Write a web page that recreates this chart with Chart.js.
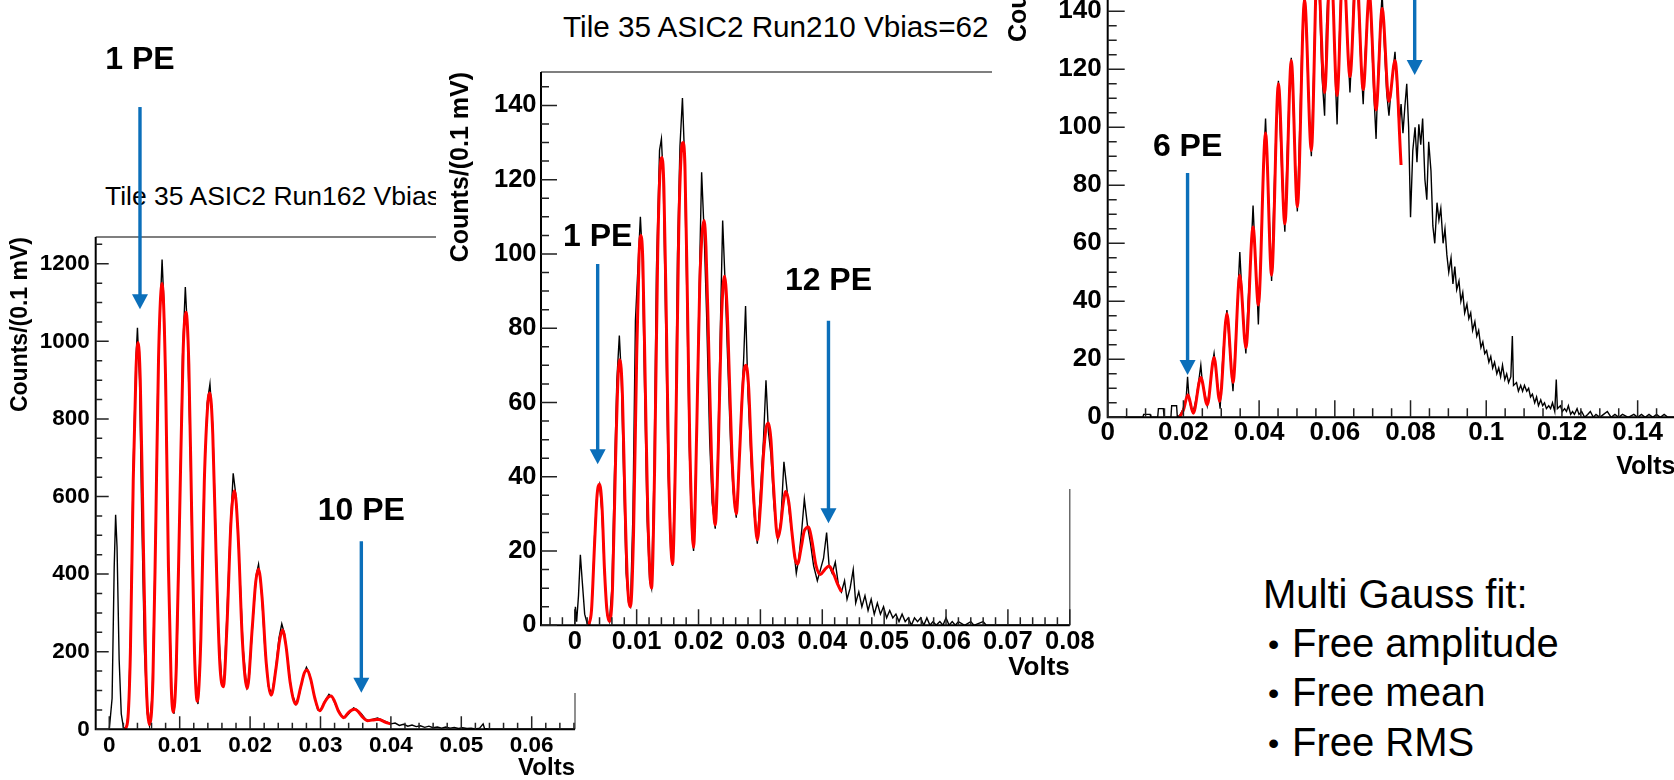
<!DOCTYPE html>
<html>
<head>
<meta charset="utf-8">
<script src="https://cdn.jsdelivr.net/npm/chart.js@4.4.1/dist/chart.umd.min.js"></script>
<style>
  html, body { margin: 0; padding: 0; background: #fff; width: 1674px; height: 780px; overflow: hidden; }
  .panel { position: absolute; background: #fff; overflow: hidden; }
  .panel canvas { position: absolute; left: 0; top: 0; }
  .htitle { position: absolute; white-space: nowrap; font-family: "Liberation Sans", Arial, sans-serif; color: #000; line-height: 1.2; }
  #notes { position: absolute; left: 1263px; top: 570px; z-index: 4; font-family: "Liberation Sans", Arial, sans-serif;
           font-size: 40px; line-height: 48.5px; color: #000; white-space: nowrap; }
  #notes .b { display: inline-block; width: 29px; padding-left: 5px; box-sizing: border-box; font-size: 32px; vertical-align: 2px; }
</style>
</head>
<body>

<div class="panel" style="left:0;top:0;width:600px;height:780px;z-index:1">
  <div class="htitle" style="left:105px;top:181px;font-size:26.5px">Tile 35 ASIC2 Run162 Vbias</div>
  <canvas id="c1" width="600" height="780"></canvas>
</div>
<div class="panel" style="left:436px;top:0;width:660px;height:693px;z-index:2">
  <div class="htitle" style="left:127px;top:9px;font-size:29.7px">Tile 35 ASIC2 Run210 Vbias=62</div>
  <canvas id="c2" width="660" height="693"></canvas>
</div>
<div class="panel" style="left:992px;top:-200px;width:700px;height:689px;z-index:3">
  <canvas id="c3" width="700" height="689"></canvas>
</div>

<div id="notes">
  <div>Multi Gauss fit:</div>
  <div><span class="b">•</span>Free amplitude</div>
  <div><span class="b">•</span>Free mean</div>
  <div><span class="b">•</span>Free RMS</div>
</div>

<script>
// ---- Run162 (left panel): histogram counts and multi-gauss fit, [volts, counts]
const run162Hist = [
  [0,0],[0.0004,80],[0.0007,420],[0.0009,553],[0.0011,470],[0.0014,180],[0.0017,40],[0.0020,5],[0.0024,2],
  [0.0027,40],[0.0030,220],[0.0034,680],[0.0038,960],[0.0040,1035],[0.0043,900],[0.0046,560],[0.0050,200],[0.0054,40],[0.0057,10],
  [0.0061,90],[0.0065,430],[0.0069,900],[0.0073,1120],[0.0075,1211],[0.0078,1080],[0.0081,760],[0.0085,330],[0.0089,80],[0.0092,40],
  [0.0096,180],[0.0100,560],[0.0104,960],[0.0108,1140],[0.0111,1030],[0.0115,720],[0.0119,330],[0.0123,100],[0.0126,65],
  [0.0130,240],[0.0134,590],[0.0139,840],[0.0143,890],[0.0147,780],[0.0151,520],[0.0155,260],[0.0160,115],[0.0163,120],
  [0.0167,290],[0.0172,520],[0.0176,660],[0.0180,600],[0.0185,420],[0.0190,210],[0.0195,110],
  [0.0199,140],[0.0204,280],[0.0209,400],[0.0212,425],[0.0216,360],[0.0221,210],[0.0226,110],[0.0231,92],
  [0.0236,150],[0.0241,235],[0.0245,272],[0.0249,245],[0.0254,170],[0.0259,95],[0.0265,65],
  [0.0270,90],[0.0275,135],[0.0280,160],[0.0284,145],[0.0290,95],[0.0296,50],[0.0300,50],
  [0.0306,72],[0.0312,90],[0.0317,82],[0.0322,60],[0.0330,35],[0.0335,30],[0.0341,42],[0.0347,55],[0.0352,50],[0.0358,40],
  [0.0364,26],[0.0369,22],[0.0375,26],[0.0381,29],[0.0387,24],[0.0393,20],[0.0400,14],[0.0406,16],[0.0412,10],[0.0418,13],
  [0.0424,8],[0.0430,11],[0.0436,7],[0.0442,9],[0.0448,5],[0.0454,8],[0.0460,4],[0.0466,6],[0.0472,3],[0.0478,6],
  [0.0484,3],[0.0490,5],[0.0496,2],[0.0502,4],[0.0508,2],[0.0514,3],[0.0520,1],[0.0526,3],[0.0531,14],[0.0533,2],
  [0.0540,0],[0.0662,0]
];
const run162Fit = [
  [0.0022,0],[0.0026,20],[0.0030,200],[0.0034,640],[0.0038,930],[0.0041,997],[0.0044,900],[0.0048,520],[0.0052,150],[0.0057,12],
  [0.0062,130],[0.0066,520],[0.0070,960],[0.0075,1149],[0.0080,900],[0.0084,420],[0.0088,110],[0.0091,44],
  [0.0095,150],[0.0100,560],[0.0105,980],[0.0109,1075],[0.0113,940],[0.0117,560],[0.0121,200],[0.0125,72],
  [0.0130,230],[0.0135,640],[0.0140,840],[0.0143,867],[0.0147,760],[0.0152,430],[0.0157,170],[0.0162,110],
  [0.0167,260],[0.0173,540],[0.0178,615],[0.0183,500],[0.0189,230],[0.0196,105],
  [0.0203,260],[0.0208,380],[0.0212,413],[0.0217,340],[0.0223,170],[0.0230,88],
  [0.0237,160],[0.0242,230],[0.0246,256],[0.0251,215],[0.0257,120],[0.0265,65],
  [0.0272,110],[0.0277,145],[0.0281,153],[0.0286,130],[0.0292,80],[0.0299,48],
  [0.0306,70],[0.0311,83],[0.0315,86],[0.0320,72],[0.0326,45],[0.0333,30],
  [0.0339,42],[0.0345,50],[0.0349,52],[0.0354,45],[0.0360,31],[0.0367,22],
  [0.0373,24],[0.0379,25],[0.0383,25.5],[0.0390,20],[0.0396,16],[0.0400,14]
];

// ---- Run210 (middle panel)
const run210Hist = [
  [0,0],[0.0001,5],[0.0003,1],[0.0006,8],[0.0009,19],[0.0012,12],[0.0016,3],[0.0020,0.5],[0.0024,0],
  [0.0028,6],[0.0032,24],[0.0036,36],[0.0040,38],[0.0044,30],[0.0048,14],[0.0052,3],[0.0056,1],
  [0.0060,10],[0.0064,40],[0.0068,66],[0.0072,78],[0.0075,68],[0.0079,40],[0.0083,14],[0.0087,6],[0.0090,5],
  [0.0094,30],[0.0098,82],[0.0102,96],[0.0106,110],[0.0109,100],[0.0113,62],[0.0117,28],[0.0121,12],[0.0124,10],
  [0.0128,40],[0.0132,96],[0.0137,128],[0.0140,131],[0.0143,120],[0.0147,80],[0.0151,40],[0.0155,20],[0.0158,16],
  [0.0162,42],[0.0166,100],[0.0170,129],[0.0174,142],[0.0177,128],[0.0181,90],[0.0185,48],[0.0189,25],[0.0192,20],
  [0.0196,45],[0.0201,90],[0.0205,122],[0.0209,106],[0.0213,84],[0.0218,50],[0.0222,33],[0.0227,26],
  [0.0231,45],[0.0235,78],[0.0239,109],[0.0243,92],[0.0247,72],[0.0252,48],[0.0256,36],[0.0261,29],
  [0.0265,42],[0.0269,58],[0.0273,72],[0.0276,86],[0.0280,62],[0.0285,44],[0.0290,30],[0.0295,22],
  [0.0300,36],[0.0305,50],[0.0309,66],[0.0313,52],[0.0317,46],[0.0322,32],[0.0328,23],
  [0.0333,28],[0.0338,44],[0.0342,38],[0.0347,30],[0.0353,22],[0.0358,14],
  [0.0362,18],[0.0367,26],[0.0371,34],[0.0376,27],[0.0381,22],[0.0386,16],[0.0392,12],
  [0.0397,15],[0.0402,18],[0.0407,25],[0.0411,16],[0.0416,14],[0.0421,17],[0.0426,11],[0.0431,9],
  [0.0436,12],[0.0440,7],[0.0445,10],[0.0450,15],[0.0454,6],[0.0459,9],[0.0464,5],[0.0469,8],[0.0474,4],[0.0479,7],
  [0.0484,3],[0.0489,6],[0.0494,3],[0.0499,5],[0.0504,2],[0.0509,4],[0.0514,2],[0.0519,3],[0.0524,1],[0.0529,3],
  [0.0534,1],[0.0539,2],[0.0544,0],[0.0549,2],[0.0554,1],[0.0559,2],[0.0564,0],[0.0569,2],[0.0574,0],[0.0579,1],
  [0.0584,0],[0.0590,1],[0.0595,0],[0.0600,2],[0.0605,0],[0.0610,1],[0.0615,0],[0.0620,1],[0.0630,0],[0.0640,1],
  [0.0645,0],[0.0660,1],[0.0665,0],[0.0800,0]
];
const run210Fit = [
  [0.0022,0],[0.0027,4],[0.0032,22],[0.0036,35],[0.0040,38],[0.0044,32],[0.0048,15],[0.0052,4],[0.0056,1],
  [0.0061,10],[0.0066,45],[0.0070,67],[0.0073,71.5],[0.0077,62],[0.0081,34],[0.0085,12],[0.0090,5],
  [0.0095,25],[0.0100,72],[0.0104,100],[0.0107,105],[0.0110,98],[0.0114,64],[0.0118,30],[0.0124,10],
  [0.0129,42],[0.0134,100],[0.0138,123],[0.0141,126],[0.0144,118],[0.0148,82],[0.0152,40],[0.0158,16.5],
  [0.0163,48],[0.0168,106],[0.0172,127],[0.0175,130],[0.0178,124],[0.0182,88],[0.0186,48],[0.0192,21],
  [0.0197,52],[0.0202,92],[0.0206,106],[0.0209,109],[0.0212,102],[0.0216,78],[0.0221,45],[0.0227,27],
  [0.0232,48],[0.0237,82],[0.0240,92],[0.0242,94],[0.0246,86],[0.0250,66],[0.0255,42],[0.0261,30],
  [0.0266,45],[0.0271,63],[0.0274,69],[0.0277,70],[0.0281,64],[0.0285,48],[0.0290,32],[0.0295,23],
  [0.0300,32],[0.0305,46],[0.0309,53],[0.0313,54.5],[0.0317,50],[0.0321,38],[0.0328,23.5],
  [0.0332,26],[0.0337,33],[0.0341,36],[0.0346,33],[0.0351,25],[0.0356,18],[0.0360,16.5],
  [0.0366,21],[0.0371,25.5],[0.0378,26.5],[0.0383,23],[0.0390,16],[0.0397,13.7],
  [0.0404,15],[0.0411,16],[0.0418,14],[0.0425,11],[0.0431,9]
];

// ---- right panel (higher bias)
const run3Hist = [
  [0,0],[0.0093,0],[0.0095,1],[0.0112,1],[0.0114,0],[0.0132,0],[0.0134,3],[0.0147,3],[0.0149,0],[0.0167,0],
  [0.0169,4],[0.0182,4],[0.0184,0],[0.0192,1],[0.0200,3],[0.0207,6],[0.0211,14],[0.0215,6],[0.0221,3],[0.0226,2],
  [0.0233,6],[0.0240,12],[0.0246,18],[0.0250,12],[0.0257,8],[0.0263,4],[0.0270,10],[0.0276,18],[0.0281,22],[0.0287,15],
  [0.0293,8],[0.0297,3],[0.0303,18],[0.0309,30],[0.0315,37],[0.0320,28],[0.0326,17],[0.0331,9],[0.0337,24],[0.0343,40],
  [0.0349,57],[0.0354,44],[0.0360,30],[0.0365,22],[0.0371,40],[0.0378,55],[0.0384,73],[0.0389,58],[0.0394,45],[0.0398,32],
  [0.0404,55],[0.0411,85],[0.0417,103],[0.0422,86],[0.0428,64],[0.0433,47],[0.0439,75],[0.0445,100],[0.0451,116],[0.0456,98],
  [0.0462,78],[0.0468,64],[0.0474,90],[0.0480,113],[0.0485,124],[0.0490,108],[0.0496,86],[0.0501,71],[0.0507,98],[0.0513,128],
  [0.0520,148],[0.0526,128],[0.0532,104],[0.0538,90],[0.0544,118],[0.0549,145],[0.0554,162],[0.0560,142],[0.0566,118],[0.0573,104],
  [0.0578,135],[0.0584,152],[0.0589,168],[0.0595,148],[0.0601,118],[0.0606,101],[0.0612,130],[0.0617,150],[0.0622,163],[0.0628,145],
  [0.0634,128],[0.0640,112],[0.0646,130],[0.0651,150],[0.0657,160],[0.0663,140],[0.0669,122],[0.0675,108],[0.0680,125],[0.0686,138],
  [0.0691,150],[0.0697,132],[0.0703,112],[0.0709,96],[0.0714,118],[0.0720,135],[0.0725,146],[0.0731,128],[0.0737,112],[0.0743,104],
  [0.0748,112],[0.0754,120],[0.0759,126],[0.0765,112],[0.0770,100],[0.0775,108],[0.0780,98],[0.0785,107],[0.0790,115],[0.0795,100],
  [0.0800,69],[0.0806,92],[0.0812,100],[0.0817,88],[0.0822,101],[0.0827,94],[0.0832,103],[0.0838,82],[0.0843,75],[0.0848,95],
  [0.0854,85],[0.0859,66],[0.0864,60],[0.0870,74],[0.0875,68],[0.0880,72],[0.0886,60],[0.0891,65],[0.0896,56],[0.0901,50],
  [0.0907,55],[0.0912,46],[0.0917,52],[0.0922,44],[0.0928,47],[0.0933,40],[0.0938,43],[0.0943,36],[0.0949,39],[0.0954,34],
  [0.0959,36],[0.0964,30],[0.0970,33],[0.0975,28],[0.0980,30],[0.0986,24],[0.0991,26],[0.0996,22],[0.1001,23],[0.1007,19],
  [0.1012,21],[0.1017,17],[0.1022,19],[0.1028,15],[0.1033,17],[0.1038,14],[0.1043,18],[0.1049,13],[0.1054,15],[0.1059,12],
  [0.1065,14],[0.1069,28],[0.1072,11],[0.1080,12],[0.1085,9],[0.1091,11],[0.1096,9],[0.1101,11],[0.1107,9],[0.1112,10],
  [0.1117,7],[0.1122,8],[0.1128,5],[0.1133,7],[0.1138,4],[0.1144,6],[0.1149,4],[0.1154,5],[0.1159,3],[0.1165,4],
  [0.1170,3],[0.1175,5],[0.1181,2],[0.1185,13],[0.1188,3],[0.1196,4],[0.1201,2],[0.1207,3],[0.1212,2],[0.1217,4],
  [0.1223,1],[0.1228,2],[0.1233,1],[0.1240,3],[0.1245,1],[0.1252,2],[0.1260,0],[0.1268,1],[0.1275,2],[0.1283,0],
  [0.1290,1],[0.1300,0],[0.1310,1],[0.1320,2],[0.1330,0],[0.1340,1],[0.1350,0],[0.1360,1],[0.1375,0],[0.1390,1],
  [0.1400,0],[0.1410,1],[0.1420,0],[0.1430,1],[0.1440,0],[0.1450,1],[0.1460,0],[0.1470,1],[0.1480,0],[0.1500,0]
];
const run3Fit = [
  [0.0190,0],[0.0200,2.5],[0.0212,7.8],[0.0226,1.4],[0.0246,13.7],[0.0263,4.3],[0.0281,20.6],[0.0296,5.5],
  [0.0315,35.8],[0.0331,12],[0.0349,49],[0.0365,24],[0.0384,65.6],[0.0398,38.7],[0.0417,98],[0.0433,49],
  [0.0451,115],[0.0468,66.7],[0.0485,123],[0.0501,72.6],[0.0520,144],[0.0538,92],[0.0554,158],[0.0573,112],
  [0.0589,160],[0.0606,111],[0.0622,158],[0.0640,117.5],[0.0657,155],[0.0675,113],[0.0691,146],[0.0709,106],
  [0.0725,141],[0.0743,109],[0.0759,123],[0.0775,87]
];

// PE markers (arrow shaft from -> tip, label height), in data units
const run162Marks = [
  { text: '1 PE', x: 0.00436, textY: 1725, from: 1604, to: 1083 },
  { text: '10 PE', x: 0.0358, textY: 563, from: 485, to: 94 }
];
const run210Marks = [
  { text: '1 PE', x: 0.0037, textY: 104.5, from: 97.3, to: 43.4 },
  { text: '12 PE', x: 0.041, textY: 92.7, from: 82, to: 27.5 }
];
const run3Marks = [
  { text: '6 PE', x: 0.0211, textY: 93.2, from: 84.2, to: 14.6 },
  { text: '', x: 0.0811, from: 175, to: 118 }
];

const FONT = '"Liberation Sans", Arial, Helvetica, sans-serif';

// ROOT style frame with inward ticks
const rootFrame = {
  id: 'rootFrame',
  afterDatasetsDraw(chart, args, o) {
    const { ctx, chartArea: a, scales: { x, y } } = chart;
    ctx.save();
    ctx.strokeStyle = '#555';
    ctx.lineWidth = 1.3;
    ctx.beginPath();
    ctx.moveTo(a.left, a.top); ctx.lineTo(a.right, a.top); ctx.lineTo(a.right, a.bottom);
    ctx.stroke();
    ctx.strokeStyle = '#000';
    ctx.lineWidth = 2;
    ctx.beginPath();
    ctx.moveTo(a.left, a.top); ctx.lineTo(a.left, a.bottom); ctx.lineTo(a.right, a.bottom);
    ctx.stroke();

    ctx.lineWidth = 1.5;
    ctx.strokeStyle = '#222';
    ctx.beginPath();
    let per = Math.round(o.xMajor / o.xMinor);
    for (let i = Math.ceil(x.min / o.xMinor - 1e-6); i * o.xMinor <= x.max + 1e-9; i++) {
      const px = x.getPixelForValue(i * o.xMinor);
      const len = i % per === 0 ? o.major : o.minor;
      ctx.moveTo(px, a.bottom); ctx.lineTo(px, a.bottom - len);
    }
    per = Math.round(o.yMajor / o.yMinor);
    for (let i = Math.ceil(y.min / o.yMinor - 1e-6); i * o.yMinor <= y.max + 1e-9; i++) {
      const py = y.getPixelForValue(i * o.yMinor);
      const len = i % per === 0 ? o.major : o.minor;
      ctx.moveTo(a.left, py); ctx.lineTo(a.left + len, py);
    }
    ctx.stroke();
    ctx.restore();
  }
};

const peArrows = {
  id: 'peArrows',
  afterDraw(chart, args, o) {
    const { ctx, scales: { x, y } } = chart;
    ctx.save();
    for (const m of o.items) {
      const px = x.getPixelForValue(m.x);
      const top = y.getPixelForValue(m.from);
      const tip = y.getPixelForValue(m.to);
      ctx.strokeStyle = '#0b6fba';
      ctx.fillStyle = '#0b6fba';
      ctx.lineWidth = 3.4;
      ctx.beginPath();
      ctx.moveTo(px, top); ctx.lineTo(px, tip - 12);
      ctx.stroke();
      ctx.beginPath();
      ctx.moveTo(px - 8, tip - 15); ctx.lineTo(px + 8, tip - 15); ctx.lineTo(px, tip);
      ctx.closePath();
      ctx.fill();
      if (m.text) {
        ctx.fillStyle = '#000';
        ctx.font = 'bold 32px ' + FONT;
        ctx.textAlign = 'center';
        ctx.textBaseline = 'middle';
        ctx.fillText(m.text, px, y.getPixelForValue(m.textY));
      }
    }
    ctx.restore();
  }
};

function toPoints(pairs) {
  return pairs.map(p => ({ x: p[0], y: p[1] }));
}

function makePanel(id, hist, fit, marks, s) {
  const fmt = v => String(Math.round(v * 1000) / 1000);
  return new Chart(document.getElementById(id), {
    type: 'line',
    data: {
      datasets: [
        { data: toPoints(fit), borderColor: '#ff0000', borderWidth: 3, pointRadius: 0,
          cubicInterpolationMode: 'monotone' },
        { data: toPoints(hist), borderColor: '#000', borderWidth: 1.4, pointRadius: 0, tension: 0 }
      ]
    },
    options: {
      responsive: false,
      animation: false,
      devicePixelRatio: 1,
      events: [],
      layout: { padding: { top: s.padTop, right: s.padRight, left: 0, bottom: 0 } },
      plugins: {
        legend: { display: false },
        tooltip: { enabled: false },
        rootFrame: { xMajor: s.xStep, xMinor: s.xMinor, yMajor: s.yStep, yMinor: s.yMinor,
                     major: s.major, minor: s.minor },
        peArrows: { items: marks }
      },
      scales: {
        x: {
          type: 'linear', min: s.xMin, max: s.xMax,
          grid: { display: false, drawTicks: false },
          border: { display: false },
          ticks: { stepSize: s.xStep, includeBounds: false, autoSkip: false, maxRotation: 0,
                   padding: s.xLabelPad, color: '#000', callback: fmt,
                   font: { family: FONT, size: s.tick, weight: 'bold' } },
          title: { display: true, text: 'Volts', align: 'end', color: '#000',
                   padding: { top: 0, bottom: s.voltsPad },
                   font: { family: FONT, size: s.volts, weight: 'bold', lineHeight: 1 } },
          afterFit: sc => { sc.height = s.xHeight; }
        },
        y: {
          type: 'linear', min: 0, max: s.yMax,
          grid: { display: false, drawTicks: false },
          border: { display: false },
          ticks: { stepSize: s.yStep, includeBounds: false, autoSkip: false,
                   padding: s.yLabelPad, color: '#000', callback: v => String(v),
                   font: { family: FONT, size: s.tick, weight: 'bold' } },
          title: { display: true, text: 'Counts/(0.1 mV)', align: 'end', color: '#000',
                   padding: { top: s.yTitlePad, bottom: 0 },
                   font: { family: FONT, size: s.yTitle, weight: 'bold', lineHeight: 1 } },
          afterFit: sc => { sc.width = s.yWidth; }
        }
      }
    },
    plugins: [rootFrame, peArrows]
  });
}

makePanel('c1', run162Hist, run162Fit, run162Marks, {
  xMin: -0.00193, xMax: 0.06615, xStep: 0.01, xMinor: 0.002,
  yMax: 1269, yStep: 200, yMinor: 50,
  tick: 22.5, xLabelPad: 3.2, yLabelPad: 6, yWidth: 95.7, xHeight: 50.7,
  padTop: 237, padRight: 25, volts: 24, voltsPad: 0, yTitle: 23, yTitlePad: 9,
  major: 13, minor: 6.5
});

makePanel('c2', run210Hist, run210Fit, run210Marks, {
  xMin: -0.00546, xMax: 0.08, xStep: 0.01, xMinor: 0.002,
  yMax: 149, yStep: 20, yMinor: 5,
  tick: 25.5, xLabelPad: 1.4, yLabelPad: 4.5, yWidth: 105, xHeight: 67.7,
  padTop: 72, padRight: 12.5, volts: 26, voltsPad: 12, yTitle: 25, yTitlePad: 12.5,
  major: 16, minor: 8
});

makePanel('c3', run3Hist, run3Fit, run3Marks, {
  xMin: 0, xMax: 0.15, xStep: 0.02, xMinor: 0.005,
  yMax: 195, yStep: 20, yMinor: 5,
  tick: 26, xLabelPad: 0.2, yLabelPad: 6, yWidth: 115.7, xHeight: 71.7,
  padTop: 51.8, padRight: 16.5, volts: 25, voltsPad: 9.5, yTitle: 25, yTitlePad: 14.5,
  major: 17, minor: 9
});
</script>
</body>
</html>
